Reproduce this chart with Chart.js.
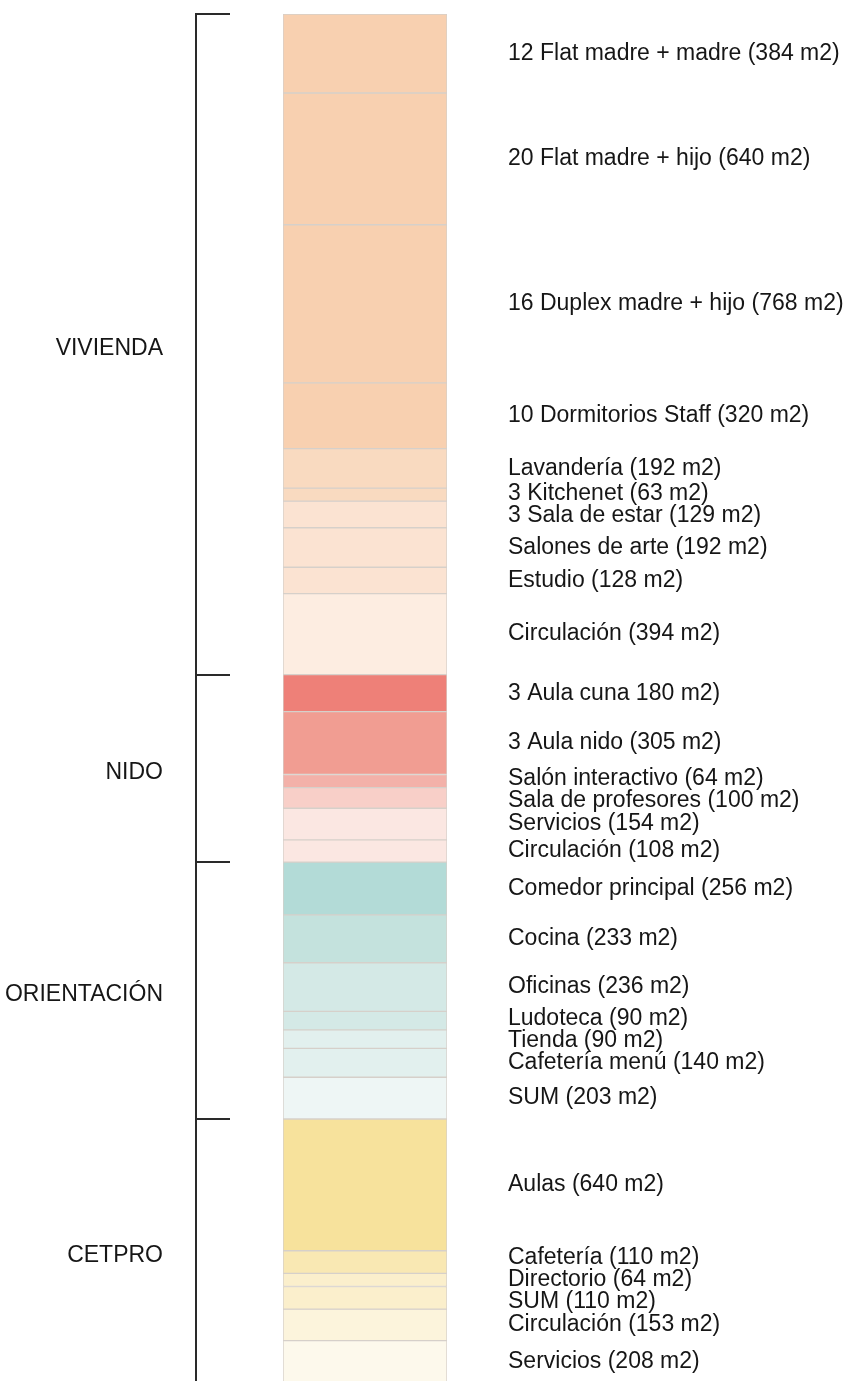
<!DOCTYPE html>
<html lang="es">
<head>
    <meta charset="UTF-8">
    <title>Programa de áreas</title>
    <script src="https://cdn.jsdelivr.net/npm/chart.js"></script>
    <style>
        html, body {
            margin: 0;
            padding: 0;
            background: #fff;
            overflow: hidden;
        }
        canvas {
            display: block;
        }
    </style>
</head>
<body>
    <canvas id="areasChart" width="846" height="1381"></canvas>

    <script>
        // zones of the programme
        const groupNames = ['VIVIENDA', 'NIDO', 'ORIENTACIÓN', 'CETPRO'];

        // each space: label as written, area in m2, zone index, fill colour
        const spaceLabels = [
            '12 Flat madre + madre (384 m2)',
            '20 Flat madre + hijo (640 m2)',
            '16 Duplex madre + hijo (768 m2)',
            '10 Dormitorios Staff (320 m2)',
            'Lavandería (192 m2)',
            '3 Kitchenet (63 m2)',
            '3 Sala de estar (129 m2)',
            'Salones de arte (192 m2)',
            'Estudio (128 m2)',
            'Circulación (394 m2)',
            '3 Aula cuna 180 m2)',
            '3 Aula nido (305 m2)',
            'Salón interactivo (64 m2)',
            'Sala de profesores (100 m2)',
            'Servicios (154 m2)',
            'Circulación (108 m2)',
            'Comedor principal (256 m2)',
            'Cocina (233 m2)',
            'Oficinas (236 m2)',
            'Ludoteca (90 m2)',
            'Tienda (90 m2)',
            'Cafetería menú (140 m2)',
            'SUM (203 m2)',
            'Aulas (640 m2)',
            'Cafetería (110 m2)',
            'Directorio (64 m2)',
            'SUM (110 m2)',
            'Circulación (153 m2)',
            'Servicios (208 m2)'
        ];
        const spaceAreas = [
            384, 640, 768, 320, 192, 63, 129, 192, 128, 394,
            180, 305, 64, 100, 154, 108,
            256, 233, 236, 90, 90, 140, 203,
            640, 110, 64, 110, 153, 208
        ];
        const spaceGroup = [
            0, 0, 0, 0, 0, 0, 0, 0, 0, 0,
            1, 1, 1, 1, 1, 1,
            2, 2, 2, 2, 2, 2, 2,
            3, 3, 3, 3, 3, 3
        ];
        const spaceColors = [
            '#f8d0b0', '#f8d0b0', '#f8d0b0', '#f8d0b0', '#f9dac0', '#f9dac0', '#fbe3d2', '#fbe3d2', '#fbe3d2', '#fdede1',
            '#ee8078', '#f19d92', '#f3b1a9', '#f8cfc8', '#fbe7e2', '#fbe7e2',
            '#b3dbd7', '#c4e2dd', '#d4e9e6', '#d4e9e6', '#e2f0ee', '#e2f0ee', '#eef6f5',
            '#f7e29c', '#f9e8b3', '#fbefcc', '#fbefcc', '#fcf4dc', '#fdf9ec'
        ];

        // the picture is cut a little before the end of the last block
        const yMax = 6642;

        const FONT = '23px "Liberation Sans", Arial, Helvetica, sans-serif';
        const MIN_GAP = 22;

        // push label centres apart so they do not sit on top of each other
        function spreadLabels(ys) {
            const out = ys.slice();
            for (let pass = 0; pass < 30; pass++) {
                let moved = false;
                for (let i = 1; i < out.length; i++) {
                    const d = out[i] - out[i - 1];
                    if (d < MIN_GAP) {
                        const shift = (MIN_GAP - d) / 2;
                        out[i - 1] -= shift;
                        out[i] += shift;
                        moved = true;
                    }
                }
                if (!moved) break;
            }
            return out;
        }

        const labelsPlugin = {
            id: 'programLabels',
            afterDatasetsDraw(chart) {
                const { ctx, chartArea, scales: { y } } = chart;
                const left = chartArea.left;

                // running totals
                let acc = 0;
                const starts = [];
                spaceAreas.forEach(v => { starts.push(acc); acc += v; });
                const groupStart = groupNames.map(() => null);
                const groupEnd = groupNames.map(() => 0);
                spaceAreas.forEach((v, i) => {
                    const g = spaceGroup[i];
                    if (groupStart[g] === null) groupStart[g] = starts[i];
                    groupEnd[g] = starts[i] + v;
                });

                ctx.save();

                // bracket
                const bx = left - 87;
                ctx.strokeStyle = '#2a2a2a';
                ctx.lineWidth = 2;
                ctx.beginPath();
                ctx.moveTo(bx, y.getPixelForValue(0));
                ctx.lineTo(bx, chartArea.bottom);
                groupStart.forEach(s => {
                    const py = Math.round(y.getPixelForValue(s));
                    ctx.moveTo(bx - 1, py);
                    ctx.lineTo(left - 53, py);
                });
                ctx.stroke();

                // zone names
                ctx.font = FONT;
                ctx.fillStyle = '#161616';
                ctx.textAlign = 'right';
                ctx.textBaseline = 'middle';
                groupNames.forEach((name, g) => {
                    const py = y.getPixelForValue((groupStart[g] + groupEnd[g]) / 2) + 4;
                    ctx.fillText(name, left - 120, py);
                });

                // space names
                ctx.textAlign = 'left';
                const mids = spaceLabels.map((lbl, i) => y.getPixelForValue(starts[i] + spaceAreas[i] / 2));
                const ys = spreadLabels(mids);
                spaceLabels.forEach((lbl, i) => {
                    ctx.fillText(lbl, chartArea.right + 61, ys[i]);
                });

                ctx.restore();
            }
        };

        const datasets = spaceLabels.map((lbl, i) => ({
            label: lbl,
            data: [spaceAreas[i]],
            backgroundColor: spaceColors[i],
            borderColor: '#d6d0ca',
            borderWidth: 1,
            borderSkipped: false,
            barPercentage: 1,
            categoryPercentage: 1,
            stack: 'programa'
        }));

        const chart = new Chart(document.getElementById('areasChart').getContext('2d'), {
            type: 'bar',
            data: {
                labels: ['Programa'],
                datasets: datasets
            },
            options: {
                responsive: false,
                animation: false,
                layout: {
                    padding: { left: 283, right: 399, top: 14, bottom: 0 }
                },
                plugins: {
                    legend: { display: false },
                    tooltip: { enabled: false },
                    title: { display: false }
                },
                scales: {
                    x: { display: false, stacked: true },
                    y: { display: false, stacked: true, reverse: true, min: 0, max: yMax }
                }
            },
            plugins: [labelsPlugin]
        });
    </script>
</body>
</html>
